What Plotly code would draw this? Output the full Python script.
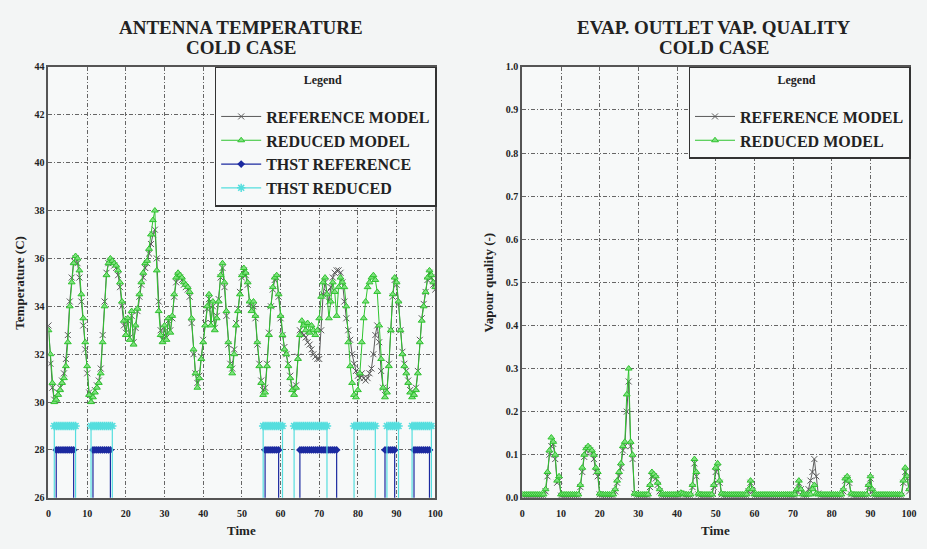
import plotly.graph_objects as go

# ---------------- data ----------------
TIME = [i * 0.5 for i in range(201)]

TEMP_REDUCED = [
    33.0, 32.0, 30.8, 30.0, 30.1, 30.3, 30.5, 30.8, 31.0, 31.5,
    32.5, 34.0, 35.0, 35.8, 36.1, 36.0, 35.5, 34.5, 33.5, 32.5,
    31.5, 30.3, 30.0, 30.2, 30.4, 30.6, 30.8, 31.2, 32.5, 34.0,
    35.3, 35.8, 36.0, 35.9, 35.8, 35.7, 35.5, 35.0, 34.2, 33.4,
    32.8, 33.5, 32.6, 33.8, 32.4, 33.2, 33.9, 34.5, 35.0, 35.4,
    35.8, 35.9, 36.4, 37.0, 37.6, 38.0, 35.5, 33.8, 32.8, 32.5,
    33.2, 32.6, 33.5, 32.9, 33.6, 34.5, 35.2, 35.4, 35.3, 35.2,
    35.0, 34.9, 34.8, 34.6, 33.5, 32.2, 31.2, 30.6, 31.0, 31.8,
    32.5, 33.2, 34.0, 34.5, 33.2, 34.2, 33.0, 33.5, 34.2, 35.3,
    35.8, 35.0, 33.8, 32.5, 31.5, 31.2, 32.0, 33.2, 33.8, 34.5,
    35.3, 35.6, 35.4, 35.0, 34.2, 33.8, 34.2, 33.6, 32.5, 31.5,
    30.8, 30.3, 30.4, 31.5, 32.8, 34.0, 34.8, 35.2, 35.3, 34.5,
    33.6, 32.8, 32.2, 32.0, 31.5, 31.0, 30.5, 30.3, 30.6, 31.8,
    32.8, 33.4, 33.2, 33.0, 33.3, 32.9, 33.2, 33.0, 32.8, 33.0,
    33.5, 34.4, 35.0, 35.2, 34.5, 33.5, 34.2, 35.0, 34.6, 33.6,
    34.8, 35.2, 35.0, 34.8, 34.0, 32.5, 31.5, 30.8, 30.3, 30.2,
    30.5, 31.2, 32.5, 33.5, 34.2, 34.8, 35.0, 35.2, 35.3, 35.1,
    34.6, 33.2, 31.8, 30.6, 30.2, 30.4, 31.5, 33.0, 34.5, 35.2,
    35.0, 34.2, 33.0, 32.0, 31.5, 31.2, 30.8, 30.4, 30.2, 30.3,
    30.5, 31.2, 32.5, 33.4, 34.0, 34.6, 35.2, 35.5, 35.3, 35.0,
    34.8,
]

TEMP_REFERENCE = [
    33.2, 31.6, 30.6, 30.1, 30.2, 30.4, 30.6, 30.9, 31.2, 31.8,
    32.8, 34.2, 35.2, 35.9, 36.0, 35.8, 35.2, 34.2, 33.2, 32.2,
    31.2, 30.4, 30.1, 30.3, 30.5, 30.7, 30.9, 31.4, 32.8, 34.2,
    35.4, 35.8, 35.9, 35.8, 35.7, 35.6, 35.3, 34.8, 34.0, 33.2,
    32.9, 33.4, 32.7, 33.6, 32.5, 33.1, 33.8, 34.4, 34.9, 35.2,
    35.6, 35.8, 36.2, 36.6, 37.0, 37.2, 36.0, 34.2, 33.0, 32.6,
    33.1, 32.7, 33.4, 33.0, 33.5, 34.4, 35.0, 35.3, 35.2, 35.1,
    34.9, 34.8, 34.7, 34.4, 33.3, 32.0, 31.2, 30.8, 31.1, 31.9,
    32.6, 33.3, 33.9, 34.3, 33.3, 34.0, 33.1, 33.6, 34.3, 35.2,
    35.6, 34.8, 33.6, 32.4, 31.6, 31.4, 32.2, 33.3, 33.9, 34.6,
    35.2, 35.5, 35.3, 34.9, 34.1, 33.9, 34.0, 33.5, 32.4, 31.6,
    30.9, 30.5, 30.6, 31.6, 32.9, 34.0, 34.7, 35.1, 35.2, 34.4,
    33.5, 32.8, 32.3, 32.0, 31.6, 31.1, 30.6, 30.4, 30.7, 31.9,
    33.0, 32.9, 32.8, 32.7, 32.5, 32.4, 32.2, 32.0, 31.9, 31.8,
    31.8, 33.0, 34.5, 35.0, 34.6, 34.2, 34.8, 35.2, 35.4, 35.5,
    35.5, 35.4, 35.0, 34.2, 33.5, 33.0, 32.6, 32.0, 31.6, 31.3,
    31.1, 31.0, 31.2, 31.0, 30.9, 31.0, 31.2, 31.4, 32.0, 32.8,
    33.2, 32.5, 31.3, 30.6, 30.3, 30.5, 31.6, 33.0, 34.4, 35.1,
    34.9, 34.1, 33.0, 32.1, 31.6, 31.3, 30.9, 30.5, 30.3, 30.4,
    30.6, 31.3, 32.6, 33.5, 34.1, 34.6, 35.1, 35.4, 35.2, 34.9,
    34.7,
]

# thruster on-periods [start, end] and on-levels
THST_REF_ON = [[2.0, 6.5], [11.5, 16.0], [56.0, 59.5], [65.0, 74.5], [87.0, 89.5], [94.5, 98.5]]
THST_RED_ON = [[1.5, 7.0], [11.0, 16.5], [55.5, 60.5], [63.5, 72.0], [79.0, 84.5], [87.5, 90.5], [94.0, 99.0]]
THST_REF_LEVEL = 28.0
THST_RED_LEVEL = 29.0
THST_OFF_LEVEL = 0.0

VQ_REDUCED = [
    0.008, 0.008, 0.008, 0.008, 0.008, 0.008, 0.008, 0.008, 0.008, 0.008,
    0.008, 0.008, 0.02, 0.06, 0.11, 0.14, 0.13, 0.10, 0.04, 0.05,
    0.008, 0.008, 0.008, 0.008, 0.008, 0.008, 0.008, 0.008, 0.008, 0.008,
    0.03, 0.07, 0.10, 0.115, 0.12, 0.115, 0.11, 0.10, 0.07, 0.06,
    0.01, 0.008, 0.008, 0.008, 0.008, 0.008, 0.008, 0.008, 0.02, 0.04,
    0.06, 0.08, 0.12, 0.13, 0.24, 0.30, 0.13, 0.10, 0.01, 0.008,
    0.008, 0.008, 0.008, 0.008, 0.008, 0.008, 0.03, 0.06, 0.055, 0.05,
    0.035, 0.02, 0.008, 0.008, 0.008, 0.008, 0.008, 0.008, 0.008, 0.008,
    0.008, 0.008, 0.012, 0.01, 0.008, 0.008, 0.008, 0.008, 0.03, 0.09,
    0.06, 0.01, 0.008, 0.008, 0.008, 0.008, 0.008, 0.008, 0.008, 0.03,
    0.07, 0.08, 0.04, 0.01, 0.008, 0.008, 0.008, 0.008, 0.008, 0.008,
    0.008, 0.008, 0.008, 0.008, 0.008, 0.008, 0.008, 0.02, 0.04, 0.02,
    0.008, 0.008, 0.008, 0.008, 0.008, 0.008, 0.008, 0.008, 0.008, 0.008,
    0.008, 0.008, 0.008, 0.008, 0.008, 0.008, 0.008, 0.008, 0.008, 0.008,
    0.008, 0.008, 0.02, 0.04, 0.02, 0.008, 0.008, 0.008, 0.008, 0.008,
    0.02, 0.03, 0.01, 0.008, 0.008, 0.008, 0.008, 0.008, 0.008, 0.008,
    0.008, 0.008, 0.008, 0.008, 0.008, 0.008, 0.02, 0.045, 0.05, 0.04,
    0.01, 0.008, 0.008, 0.008, 0.008, 0.008, 0.008, 0.008, 0.008, 0.03,
    0.05, 0.02, 0.008, 0.008, 0.008, 0.008, 0.008, 0.008, 0.008, 0.008,
    0.008, 0.008, 0.008, 0.008, 0.008, 0.008, 0.008, 0.04, 0.07, 0.05,
    0.02,
]

VQ_REFERENCE = [
    0.005, 0.005, 0.005, 0.005, 0.005, 0.005, 0.005, 0.005, 0.005, 0.005,
    0.005, 0.005, 0.015, 0.05, 0.10, 0.12, 0.125, 0.09, 0.035, 0.04,
    0.005, 0.005, 0.005, 0.005, 0.005, 0.005, 0.005, 0.005, 0.005, 0.005,
    0.025, 0.06, 0.095, 0.11, 0.115, 0.11, 0.105, 0.09, 0.06, 0.05,
    0.008, 0.005, 0.005, 0.005, 0.005, 0.005, 0.005, 0.005, 0.015, 0.035,
    0.05, 0.07, 0.11, 0.12, 0.20, 0.27, 0.12, 0.09, 0.01, 0.005,
    0.005, 0.005, 0.005, 0.005, 0.005, 0.005, 0.025, 0.05, 0.05, 0.045,
    0.03, 0.015, 0.005, 0.005, 0.005, 0.005, 0.005, 0.005, 0.005, 0.005,
    0.005, 0.005, 0.01, 0.008, 0.005, 0.005, 0.005, 0.005, 0.025, 0.08,
    0.05, 0.008, 0.005, 0.005, 0.005, 0.005, 0.005, 0.005, 0.005, 0.025,
    0.06, 0.07, 0.035, 0.008, 0.005, 0.005, 0.005, 0.005, 0.005, 0.005,
    0.005, 0.005, 0.005, 0.005, 0.005, 0.005, 0.005, 0.015, 0.035, 0.015,
    0.005, 0.005, 0.005, 0.005, 0.005, 0.005, 0.005, 0.005, 0.005, 0.005,
    0.005, 0.005, 0.005, 0.005, 0.005, 0.005, 0.005, 0.005, 0.005, 0.005,
    0.005, 0.005, 0.015, 0.035, 0.02, 0.005, 0.005, 0.005, 0.02, 0.04,
    0.06, 0.09, 0.05, 0.01, 0.005, 0.005, 0.005, 0.005, 0.005, 0.005,
    0.005, 0.005, 0.005, 0.005, 0.005, 0.005, 0.015, 0.04, 0.045, 0.035,
    0.008, 0.005, 0.005, 0.005, 0.005, 0.005, 0.005, 0.005, 0.005, 0.025,
    0.045, 0.015, 0.005, 0.005, 0.005, 0.005, 0.005, 0.005, 0.005, 0.005,
    0.005, 0.005, 0.005, 0.005, 0.005, 0.005, 0.005, 0.035, 0.06, 0.045,
    0.015,
]

X_TICKS = [0, 10, 20, 30, 40, 50, 60, 70, 80, 90, 100]
T_TICKS = [26, 28, 30, 32, 34, 36, 38, 40, 42, 44]
VQ_TICKS = [0.0, 0.1, 0.2, 0.3, 0.4, 0.5, 0.6, 0.7, 0.8, 0.9, 1.0]


def step_series(periods, level, off):
    xs, ys = [], []
    for a, b in periods:
        n = int(round((b - a) / 0.5))
        samples = [a + k * 0.5 for k in range(n + 1)]
        xs += [a] + samples + [b, None]
        ys += [off] + [level] * len(samples) + [off, None]
    return xs, ys


FONT = "Liberation Serif"
W, H = 927, 549

fig = go.Figure()

C_REF = "#5a5a5a"
C_RED = "#2fc42f"
C_TREF = "#1c2aa0"
C_TRED = "#55dede"

fig.add_trace(go.Scatter(
    x=TIME, y=TEMP_REFERENCE, name="REFERENCE MODEL", mode="lines+markers",
    line=dict(color=C_REF, width=1),
    marker=dict(symbol="x-thin-open", size=6, line=dict(color=C_REF, width=1)),
    xaxis="x", yaxis="y", legend="legend"))
fig.add_trace(go.Scatter(
    x=TIME, y=TEMP_REDUCED, name="REDUCED MODEL", mode="lines+markers",
    line=dict(color=C_RED, width=1),
    marker=dict(symbol="triangle-up", size=6, color="#7fe07f", line=dict(color=C_RED, width=1)),
    xaxis="x", yaxis="y", legend="legend"))
xr, yr = step_series(THST_REF_ON, THST_REF_LEVEL, THST_OFF_LEVEL)
fig.add_trace(go.Scatter(
    x=xr, y=yr, name="THST REFERENCE", mode="lines+markers",
    line=dict(color=C_TREF, width=1.2),
    marker=dict(symbol="diamond", size=6, color=C_TREF),
    xaxis="x", yaxis="y", legend="legend"))
xc, yc = step_series(THST_RED_ON, THST_RED_LEVEL, THST_OFF_LEVEL)
fig.add_trace(go.Scatter(
    x=xc, y=yc, name="THST REDUCED", mode="lines+markers",
    line=dict(color=C_TRED, width=1.2),
    marker=dict(symbol="asterisk-open", size=7, line=dict(color=C_TRED, width=1.5)),
    xaxis="x", yaxis="y", legend="legend"))

fig.add_trace(go.Scatter(
    x=TIME, y=VQ_REFERENCE, name="REFERENCE MODEL", mode="lines+markers",
    line=dict(color=C_REF, width=1),
    marker=dict(symbol="x-thin-open", size=6, line=dict(color=C_REF, width=1)),
    xaxis="x2", yaxis="y2", legend="legend2"))
fig.add_trace(go.Scatter(
    x=TIME, y=VQ_REDUCED, name="REDUCED MODEL", mode="lines+markers",
    line=dict(color=C_RED, width=1),
    marker=dict(symbol="triangle-up", size=6, color="#7fe07f", line=dict(color=C_RED, width=1)),
    xaxis="x2", yaxis="y2", legend="legend2"))

tickfont = dict(family=FONT, size=10, color="#222", weight="bold")
axis_common = dict(
    showline=True, mirror=True, linecolor="#555", linewidth=2,
    showgrid=True, gridcolor="#666", gridwidth=1, griddash="4px,2px,1px,2px",
    zeroline=False, ticks="", tickfont=tickfont, fixedrange=True,
)

y0 = 1 - 502 / H
y1 = 1 - 63 / H

legend_common = dict(
    xanchor="left", yanchor="top", y=y1,
    bgcolor="#f7f9f9", bordercolor="#333", borderwidth=1.5,
    font=dict(family=FONT, size=16, color="#222", weight="bold"),
    title=dict(text="Legend  <br> ", side="top center", font=dict(family=FONT, size=12, weight="bold")),
    itemwidth=40, tracegroupgap=0,
)

fig.update_layout(
    width=W, height=H,
    margin=dict(l=0, r=0, t=0, b=0),
    paper_bgcolor="#f3f5f5",
    plot_bgcolor="#f7f9f9",
    font=dict(family=FONT, color="#222"),
    xaxis=dict(domain=[47 / W, 438 / W], range=[0, 100], tickvals=X_TICKS, anchor="y",
               ticklabelstandoff=5, **axis_common),
    yaxis=dict(domain=[y0, y1], range=[26, 44], tickvals=T_TICKS, anchor="x", **axis_common),
    xaxis2=dict(domain=[526 / W, 917 / W], range=[0, 100], tickvals=X_TICKS, anchor="y2",
                ticklabelstandoff=5, **axis_common),
    yaxis2=dict(domain=[y0, y1], range=[0, 1], tickvals=VQ_TICKS, tickformat=".1f", anchor="x2",
                **axis_common),
    legend=dict(x=215 / W, **legend_common),
    legend2=dict(x=694 / W, **legend_common),
    showlegend=True,
)

ann_font = dict(family=FONT, size=19, color="#222", weight="bold")
for cx, line1 in [(242, "ANTENNA TEMPERATURE"), (720, "EVAP. OUTLET VAP. QUALITY")]:
    fig.add_annotation(text=line1, x=cx / W, y=1 - 23 / H, xref="paper", yref="paper",
                       xanchor="center", yanchor="middle", showarrow=False, font=ann_font)
    fig.add_annotation(text="COLD CASE", x=cx / W, y=1 - 43 / H, xref="paper", yref="paper",
                       xanchor="center", yanchor="middle", showarrow=False, font=ann_font)

lab_font = dict(family=FONT, size=13, color="#222", weight="bold")
for cx in (242, 721):
    fig.add_annotation(text="Time", x=cx / W, y=1 - 535 / H, xref="paper", yref="paper",
                       xanchor="center", yanchor="middle", showarrow=False, font=lab_font)
fig.add_annotation(text="Temperature (C)", x=18 / W, y=1 - 283 / H, xref="paper", yref="paper",
                   xanchor="center", yanchor="middle", showarrow=False, font=lab_font, textangle=-90)
fig.add_annotation(text="Vapour quality (-)", x=492 / W, y=1 - 283 / H, xref="paper", yref="paper",
                   xanchor="center", yanchor="middle", showarrow=False, font=lab_font, textangle=-90)

fig.write_html("out.html")
